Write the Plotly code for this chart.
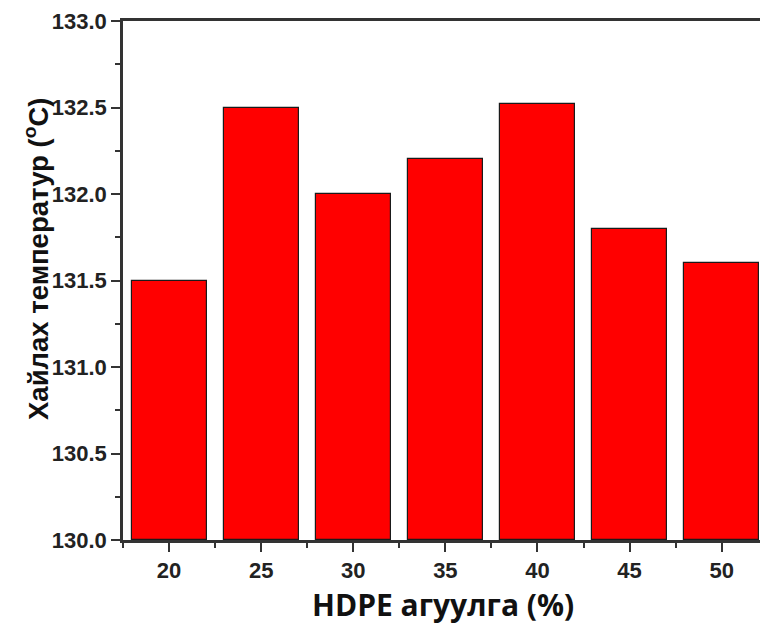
import plotly.graph_objects as go

# HDPE content (%) and melting temperature (°C)
hdpe_content = [20, 25, 30, 35, 40, 45, 50]
melt_temp = [131.5, 132.5, 132.0, 132.2, 132.52, 131.8, 131.6]

y_ticks = [130.0, 130.5, 131.0, 131.5, 132.0, 132.5, 133.0]
x_ticks = [20, 25, 30, 35, 40, 45, 50]

y_floor = 130.0
axis_color = "#333333"
tick_font = dict(family="Liberation Sans, Arial, sans-serif", size=22,
                 color="#222222", weight="bold")

fig = go.Figure(
    go.Bar(
        x=hdpe_content,
        y=[v - y_floor for v in melt_temp],
        base=y_floor,
        width=4.07,
        marker=dict(color="#ff0000", line=dict(color="#1a1a1a", width=1.2)),
    )
)

fig.update_layout(
    width=760,
    height=624,
    margin=dict(l=123, r=0, t=21, b=84),
    paper_bgcolor="white",
    plot_bgcolor="white",
    showlegend=False,
    bargap=0,
)

fig.update_xaxes(
    range=[17.5, 52.08],
    tickvals=x_ticks,
    ticktext=[str(v) for v in x_ticks],
    ticks="outside",
    ticklen=9,
    tickwidth=2,
    tickcolor=axis_color,
    tickfont=tick_font,
    showline=True,
    linecolor=axis_color,
    linewidth=2.5,
    mirror=True,
    showgrid=False,
    zeroline=False,
    minor=dict(tick0=17.5, dtick=5, ticks="outside", ticklen=5,
               tickwidth=2, tickcolor=axis_color, showgrid=False),
)

fig.update_yaxes(
    range=[130.0, 133.0],
    tickvals=y_ticks,
    ticktext=[f"{v:.1f}" for v in y_ticks],
    ticks="outside",
    ticklen=9,
    tickwidth=2,
    tickcolor=axis_color,
    tickfont=tick_font,
    showline=True,
    linecolor=axis_color,
    linewidth=2.5,
    showgrid=False,
    zeroline=False,
    minor=dict(tick0=130.25, dtick=0.5, ticks="outside", ticklen=5,
               tickwidth=2, tickcolor=axis_color, showgrid=False),
)

# axis titles
fig.add_annotation(
    text="<b>HDPE агуулга (%)</b>",
    xref="paper", yref="paper",
    x=(443 - 123) / (760 - 123), y=-(604 - 540) / 519,
    xanchor="center", yanchor="middle",
    showarrow=False,
    font=dict(family="Open Sans, sans-serif", size=30, color="#111111"),
)
fig.add_annotation(
    text="<b>Хайлах температур (<sup>o</sup>C)</b>",
    xref="paper", yref="paper",
    x=-(123 - 36) / (760 - 123), y=(540 - 259) / 519,
    xanchor="center", yanchor="middle",
    textangle=-90,
    showarrow=False,
    font=dict(family="Liberation Sans, Arial, sans-serif", size=27.5, color="#111111"),
)

fig.write_html("out.html")
